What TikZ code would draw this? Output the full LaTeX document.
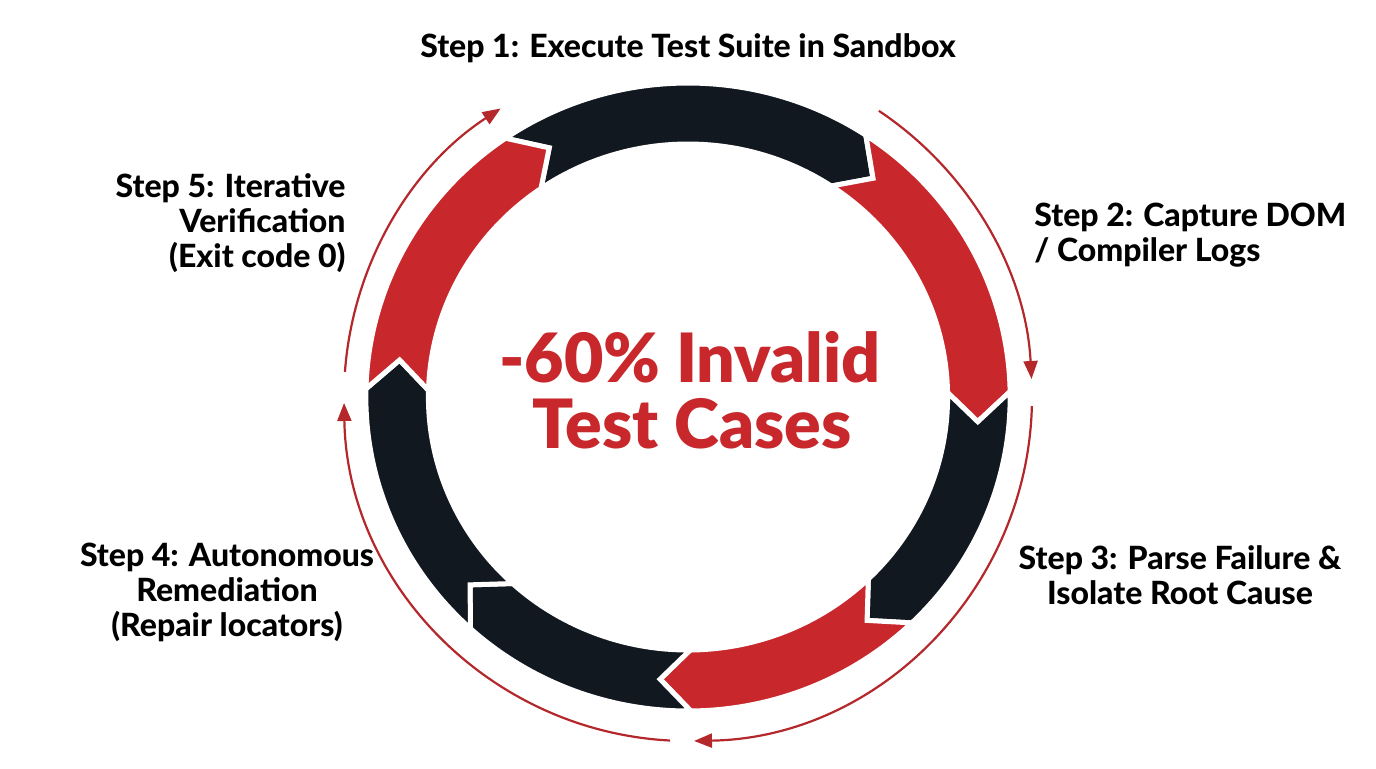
\documentclass[tikz,border=0pt]{standalone}
\usepackage{fontspec}
\setmainfont{Lato}
\newfontfamily\labfont{Lato Heavy}
\newfontfamily\ctrfont{Lato Black}
\usetikzlibrary{arrows.meta}
\definecolor{ringred}{HTML}{C8282B}
\definecolor{ringnavy}{HTML}{121820}
\definecolor{thinred}{HTML}{B4282C}
\newcommand\ringseg[3]{%
  \fill[#1, draw=white, line width=2.5pt, line join=miter]
    (#2:\Ro) arc[start angle=#2, end angle=#3, radius=\Ro]
    -- ({#3-\dd}:\Rm) -- (#3:\Ri)
    arc[start angle=#3, end angle=#2, radius=\Ri]
    -- ({#2-\dd}:\Rm) -- cycle;}
\tikzset{
  lab/.style={font=\labfont\fontsize{16}{17.5}\selectfont, text=black, inner sep=0pt},
  ctr/.style={font=\ctrfont\fontsize{34}{34}\selectfont, text=ringred, inner sep=0pt, anchor=base},
  thinarrow/.style={draw=thinred, line width=1.1pt, -{Triangle[length=9pt,width=7pt]}}
}
\begin{document}
\begin{tikzpicture}[x=0.5pt,y=0.5pt]
\useasboundingbox (0,0) rectangle (1376,768);
\fill[white] (0,0) rectangle (1376,768);
\def\Ro{314}\def\Ri{253}\def\Rm{283.5}\def\dd{6}
\begin{scope}[shift={(688,371)}, xscale=1.026]
  \ringseg{ringnavy}{124.5}{56.5}
  \ringseg{ringred}{56.5}{1}
  \ringseg{ringnavy}{1}{-46}
  \ringseg{ringred}{-46}{-89.5}
  \ringseg{ringnavy}{-89.5}{-132.5}
  \ringseg{ringnavy}{227.5}{178.5}
  \ringseg{ringred}{178.5}{124.5}
\end{scope}
\begin{scope}[shift={(688,371)}]
  \coordinate (a0) at (175.8:344);
  \coordinate (b0) at (56.3:344);
  \coordinate (c0) at (-1.5:344);
  \coordinate (d0) at (-93:344);
  \draw[thinarrow] (a0) arc[start angle=175.8, end angle=123, radius=344];
  \draw[thinarrow] (b0) arc[start angle=56.3, end angle=3, radius=344];
  \draw[thinarrow] (c0) arc[start angle=-1.5, end angle=-89, radius=344];
  \draw[thinarrow] (d0) arc[start angle=-93, end angle=-179, radius=344];
\end{scope}
\node[lab] (s1) at (688,720) {Step 1: Execute Test Suite in Sandbox};
\node[lab, anchor=west, align=left] (s2) at (1034,533) {Step 2: Capture DOM\\/ Compiler Logs};
\node[lab, align=center] (s3) at (1180,193) {Step 3: Parse Failure \&\\Isolate Root Cause};
\node[lab, align=center] (s4) at (227,176) {Step 4: Autonomous\\Remediation\\(Repair locators)};
\node[lab, anchor=east, align=right] (s5) at (346,545) {Step 5: Iterative\\Verification\\(Exit code 0)};
\node[ctr] (c1) at (690,386) {-60\% Invalid};
\node[ctr] (c2) at (692,320) {Test Cases};
\end{tikzpicture}
\end{document}
